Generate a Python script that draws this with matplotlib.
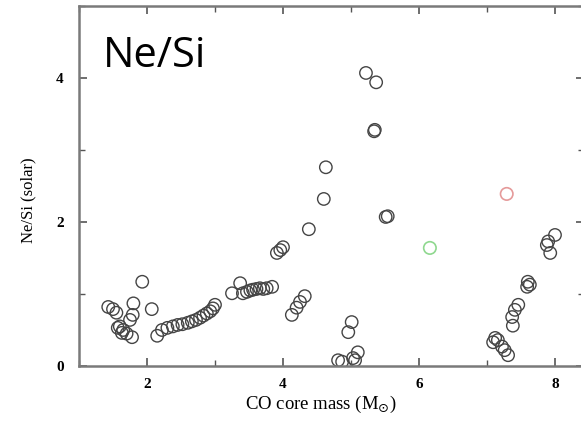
import matplotlib
matplotlib.use('Agg')
import matplotlib.pyplot as plt
from matplotlib.ticker import MultipleLocator

# CO core mass vs Ne/Si (solar)
masa = [1.43, 1.50, 1.55, 1.60, 1.65, 1.70, 1.57, 1.63, 1.78, 1.75, 1.79, 1.80, 1.93, 2.07,
        2.15, 2.22, 2.30, 2.38, 2.45, 2.52, 2.60, 2.66, 2.72, 2.78, 2.83, 2.88, 2.93, 2.97, 3.00,
        3.25, 3.37, 3.41, 3.47, 3.52, 3.56, 3.61, 3.66, 3.71, 3.76, 3.84,
        3.91, 3.96, 4.00, 4.13, 4.20, 4.25, 4.32, 4.38, 4.60, 4.63,
        4.81, 4.87, 4.96, 5.01, 5.03, 5.06, 5.10, 5.22, 5.34, 5.35, 5.37, 5.51, 5.54,
        7.09, 7.12, 7.16, 7.22, 7.26, 7.31, 7.38, 7.37, 7.41, 7.46, 7.59, 7.60, 7.63,
        7.88, 7.90, 7.93, 8.00]
ne_si = [0.82, 0.79, 0.74, 0.55, 0.50, 0.45, 0.53, 0.46, 0.40, 0.64, 0.71, 0.87, 1.17, 0.79,
         0.42, 0.50, 0.53, 0.55, 0.57, 0.58, 0.60, 0.62, 0.64, 0.67, 0.70, 0.73, 0.76, 0.80, 0.85,
         1.01, 1.15, 1.01, 1.03, 1.05, 1.06, 1.07, 1.08, 1.07, 1.08, 1.10,
         1.57, 1.61, 1.65, 0.71, 0.81, 0.89, 0.97, 1.90, 2.32, 2.76,
         0.08, 0.06, 0.47, 0.61, 0.11, 0.08, 0.19, 4.07, 3.26, 3.28, 3.94, 2.07, 2.08,
         0.33, 0.39, 0.36, 0.27, 0.22, 0.15, 0.56, 0.68, 0.78, 0.85, 1.10, 1.17, 1.13,
         1.68, 1.73, 1.57, 1.82]

# los dos puntos de color
masa_verde, ne_si_verde = [6.16], [1.64]
masa_rojo, ne_si_rojo = [7.29], [2.39]

fig = plt.figure(figsize=(5.81, 4.21), dpi=100)
ax = fig.add_axes([79 / 581, 55 / 421, 505 / 581, 360 / 421])

ax.scatter(masa, ne_si, s=80, facecolors='none', edgecolors='#454545', linewidths=1.0)
ax.scatter(masa_verde, ne_si_verde, s=80, facecolors='none', edgecolors='#8fd88f', linewidths=1.2)
ax.scatter(masa_rojo, ne_si_rojo, s=80, facecolors='none', edgecolors='#e59a9a', linewidths=1.2)

ax.set_xlim(1.0, 1.0 + 505 / 68)
ax.set_ylim(0, 5)
ax.xaxis.set_major_locator(MultipleLocator(2))
ax.xaxis.set_minor_locator(MultipleLocator(1))
ax.yaxis.set_major_locator(MultipleLocator(2))
ax.yaxis.set_minor_locator(MultipleLocator(1))
ax.tick_params(which='both', direction='in', top=True, right=True, color='#555555')
ax.tick_params(which='major', length=6, width=1.2)
ax.tick_params(axis='x', which='major', pad=9)
ax.tick_params(axis='y', which='major', pad=11)
ax.tick_params(which='minor', length=4, width=1.0)

for lbl in ax.get_xticklabels() + ax.get_yticklabels():
    lbl.set_family('Liberation Serif')
    lbl.set_fontweight('bold')
    lbl.set_fontsize(11)

for sp in ax.spines.values():
    sp.set_color('#7a7a7a')
    sp.set_linewidth(1.8)

ax.set_xlabel(r'CO core mass (M$_{\odot}$)', family='Liberation Serif', fontsize=13.5)
ax.xaxis.label.set_va('center')
ax.xaxis.set_label_coords((321 - 79) / 505, -(404 - 366) / 360)
ax.set_ylabel('Ne/Si (solar)', family='Liberation Serif', fontsize=12)
ax.yaxis.label.set_va('center')
ax.yaxis.set_label_coords(-(79 - 28) / 505, (366 - 200) / 360)

fig.text(103 / 581, 1 - 67 / 421, 'Ne/Si', family='Open Sans', fontsize=30, color='black')

plt.savefig('out.png', dpi=100)
